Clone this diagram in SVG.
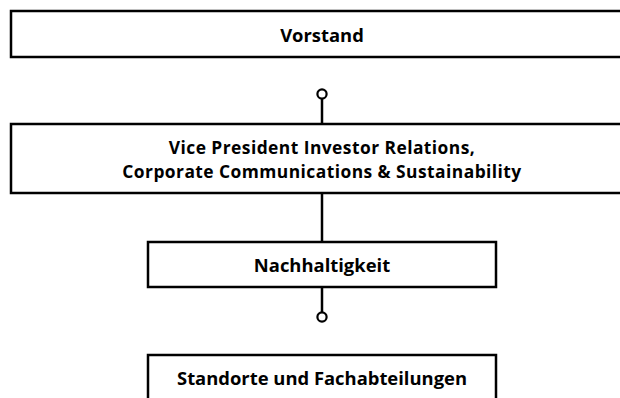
<svg xmlns="http://www.w3.org/2000/svg" width="620" height="398" viewBox="0 0 620 398">
<style>
.box{fill:#fff;stroke:#000;stroke-width:2.5}
.lbl{font-family:"Open Sans","Noto Sans","Liberation Sans",sans-serif;font-weight:700;font-size:18.4px;fill:#000;text-anchor:middle}
.two{font-size:17.4px;letter-spacing:0.45px}
.con{stroke:#000;stroke-width:2.5;fill:none}
.dot{fill:#fff;stroke:#000;stroke-width:2.2}
</style>
<rect width="620" height="398" fill="#fff"/>
<g id="connectors">
<line class="con" x1="322" y1="99" x2="322" y2="124"/>
<circle class="dot" cx="322" cy="94" r="4.6"/>
<line class="con" x1="322" y1="193" x2="322" y2="242"/>
<line class="con" x1="322" y1="287" x2="322" y2="312"/>
<circle class="dot" cx="322" cy="317" r="4.6"/>
</g>
<g id="vorstand">
<rect class="box" x="11" y="11" width="640" height="46"/>
<text class="lbl" x="322" y="41.5">Vorstand</text>
</g>
<g id="vp">
<rect class="box" x="11" y="124" width="640" height="69"/>
<text class="lbl two" x="322" y="154"><tspan x="322" y="154">Vice President Investor Relations,</tspan><tspan x="322" y="177.8">Corporate Communications &amp; Sustainability</tspan></text>
</g>
<g id="nachhaltigkeit">
<rect class="box" x="148" y="242" width="348" height="45"/>
<text class="lbl" x="322" y="271.5">Nachhaltigkeit</text>
</g>
<g id="standorte">
<rect class="box" x="148" y="355" width="348" height="60"/>
<text class="lbl" x="322" y="385">Standorte und Fachabteilungen</text>
</g>
</svg>
